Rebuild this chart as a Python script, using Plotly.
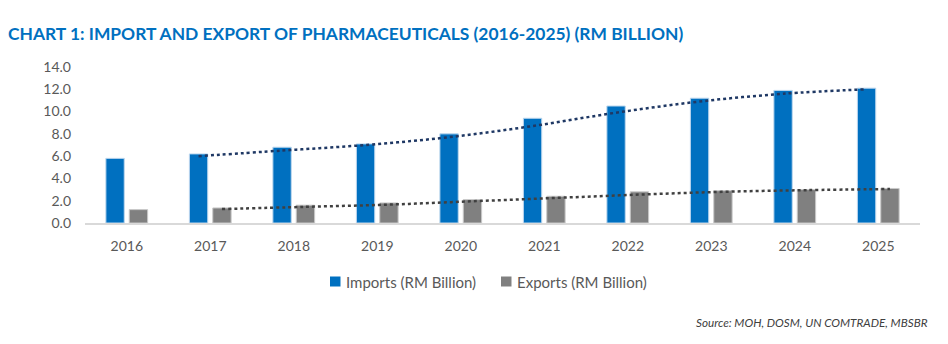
import plotly.graph_objects as go

years = [2016, 2017, 2018, 2019, 2020, 2021, 2022, 2023, 2024, 2025]
imports_vals = [5.8, 6.2, 6.8, 7.1, 8.0, 9.4, 10.5, 11.2, 11.9, 12.1]
exports_vals = [1.2, 1.35, 1.6, 1.8, 2.1, 2.4, 2.8, 2.9, 3.0, 3.1]
trend_years = [2017, 2018, 2019, 2020, 2021, 2022, 2023, 2024, 2025]
imports_trend = [6.0, 6.5, 7.0, 7.7, 8.7, 9.9, 10.9, 11.6, 12.0]
exports_trend = [1.25, 1.45, 1.65, 1.95, 2.25, 2.55, 2.8, 2.95, 3.05]
y_ticks = [0, 2, 4, 6, 8, 10, 12, 14]
series_names = ["Imports (RM Billion)", "Exports (RM Billion)"]

BLUE = "#0070C0"
GREY = "#808080"
FONT = "Lato"
BAR_W = 0.22
GAP = 0.06
imp_off = -BAR_W - GAP / 2
exp_off = GAP / 2

# plot area in pixels (for converting legend/source placement)
L, R, T, B = 85, 920, 67, 223
def px(xp):
    return (xp - L) / (R - L)
def py(yp):
    return (B - yp) / (B - T)

fig = go.Figure()
fig.add_trace(go.Bar(
    x=years, y=imports_vals, name=series_names[0],
    width=BAR_W, offset=imp_off, showlegend=False,
    marker=dict(color=BLUE, line=dict(color="#BDD7EE", width=1)),
))
fig.add_trace(go.Bar(
    x=years, y=exports_vals, name=series_names[1],
    width=BAR_W, offset=exp_off, showlegend=False,
    marker=dict(color=GREY, line=dict(color="#C9C9C9", width=1)),
))
fig.add_trace(go.Scatter(
    x=[y + imp_off + BAR_W / 2 for y in trend_years], y=imports_trend,
    mode="lines", line=dict(color="#1F3864", width=2.5, dash="dot", shape="spline"),
    showlegend=False, hoverinfo="skip",
))
fig.add_trace(go.Scatter(
    x=[y + exp_off + BAR_W / 2 for y in trend_years], y=exports_trend,
    mode="lines", line=dict(color="#404040", width=2.5, dash="dot", shape="spline"),
    showlegend=False, hoverinfo="skip",
))

fig.update_layout(
    width=948, height=344,
    margin=dict(l=L, r=948 - R, t=T, b=344 - B),
    paper_bgcolor="white", plot_bgcolor="white",
    barmode="overlay",
    font=dict(family=FONT, color="#595959", size=14),
    title=dict(
        text="<b>CHART 1: IMPORT AND EXPORT OF PHARMACEUTICALS (2016-2025) (RM BILLION)</b>",
        font=dict(family=FONT, size=17.4, color=BLUE),
        xref="container", yref="container", x=8 / 948, xanchor="left",
        y=1 - 34 / 344, yanchor="middle",
    ),
    showlegend=False,
)
fig.update_xaxes(
    range=[2015.5, 2025.5], tickmode="array", tickvals=years,
    ticktext=[str(y) for y in years], showgrid=False, zeroline=False,
    showline=True, linecolor="#D9D9D9", linewidth=2, ticks="",
    tickfont=dict(size=14, color="#595959"), ticklabelstandoff=9,
)
fig.update_yaxes(
    range=[0, 14], tickmode="array", tickvals=y_ticks, tickformat=".1f",
    showgrid=False, zeroline=False, showline=False, ticks="",
    tickfont=dict(size=14, color="#595959"), ticklabelstandoff=13,
)

# manual legend (small squares close to text, as in the original)
legend_items = [(series_names[0], BLUE, 330), (series_names[1], GREY, 501)]
for name, col, x0 in legend_items:
    fig.add_shape(
        type="rect", xref="paper", yref="paper",
        x0=px(x0), x1=px(x0 + 10.5), y0=py(286.5), y1=py(276.5),
        fillcolor=col, line=dict(width=0),
    )
    fig.add_annotation(
        text=name, xref="paper", yref="paper", x=px(x0 + 13.5), xanchor="left",
        y=py(281.5), yanchor="middle", showarrow=False,
        font=dict(family=FONT, size=15, color="#595959"),
    )

fig.add_annotation(
    text="<i>Source: MOH, DOSM, UN COMTRADE, MBSBR</i>",
    xref="paper", yref="paper", x=px(930), xanchor="right",
    y=py(322), yanchor="middle", showarrow=False,
    font=dict(family=FONT, size=11.7, color="#404040"),
)

fig.write_html("out.html")
